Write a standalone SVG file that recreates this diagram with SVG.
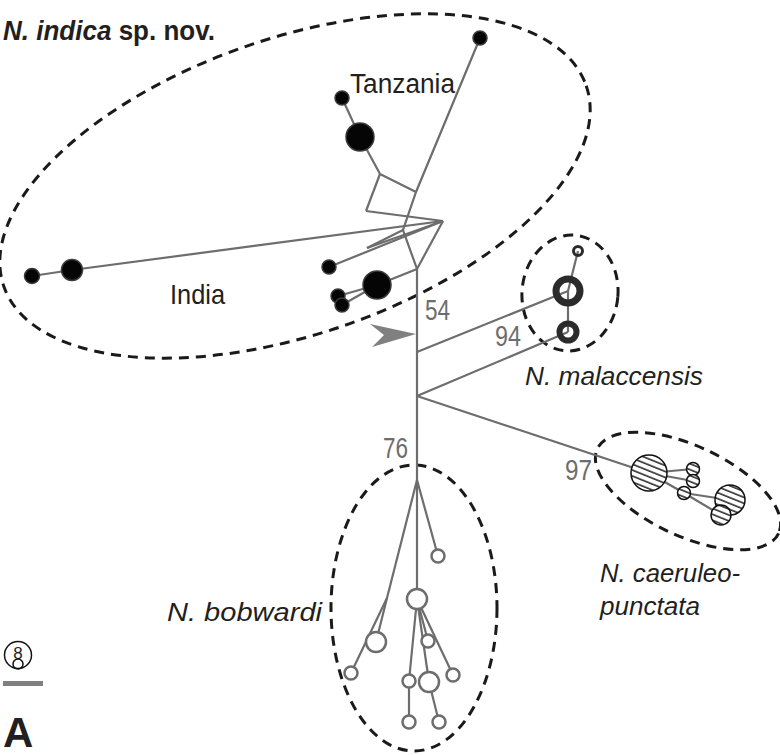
<svg xmlns="http://www.w3.org/2000/svg" width="780" height="755" viewBox="0 0 780 755">
<defs>
<pattern id="hatch" patternUnits="userSpaceOnUse" width="6" height="5.5" patternTransform="rotate(22)">
<rect width="6" height="5.5" fill="#fff"/>
<line x1="0" y1="1" x2="6" y2="1" stroke="#111" stroke-width="1.4"/>
</pattern>
</defs>
<style>
.e{fill:none;stroke:#1a1a1a;stroke-width:3;stroke-dasharray:10 7}
.c{stroke:#6d6d6d;stroke-width:2.2;fill:none}
.bk{fill:#050505;stroke:#3a3a3a;stroke-width:1.5}
.ml{fill:none;stroke:#2b2b2b}
.ht{fill:url(#hatch);stroke:#111;stroke-width:1.5}
.bw{fill:#fff;stroke:#6d6d6d;stroke-width:2.5}
.t{font-family:"Liberation Sans",Arial,sans-serif;fill:#231f20}
.n{font-family:"Liberation Sans",Arial,sans-serif;fill:#6d6d6d;font-size:29px}
.i{font-style:italic;font-size:26px}
</style>
<rect width="780" height="755" fill="#fff"/>

<g id="ellipses">
<ellipse class="e" cx="295" cy="186" rx="308" ry="148" transform="rotate(-19 295 186)"/>
<ellipse class="e" cx="570" cy="293" rx="48" ry="58" transform="rotate(5 570 293)"/>
<ellipse class="e" cx="688" cy="491" rx="100" ry="45" transform="rotate(25 688 491)"/>
<ellipse class="e" cx="414" cy="608" rx="83" ry="143"/>
</g>

<g id="connectors">
<polyline class="c" points="480,38 416,192 403,230 417,269 417,480"/>
<line class="c" x1="380" y1="174" x2="416" y2="192"/>
<line class="c" x1="380" y1="174" x2="366" y2="211"/>
<line class="c" x1="380" y1="174" x2="360" y2="137"/>
<line class="c" x1="360" y1="137" x2="342" y2="98"/>
<line class="c" x1="366" y1="211" x2="443" y2="221"/>
<polyline class="c" points="32,276 72,270 443,221"/>
<line class="c" x1="367" y1="248" x2="443" y2="221"/>
<line class="c" x1="367" y1="248" x2="403" y2="230"/>
<line class="c" x1="329" y1="267" x2="443" y2="221"/>
<line class="c" x1="443" y1="221" x2="417" y2="269"/>
<line class="c" x1="377" y1="285" x2="417" y2="269"/>
<line class="c" x1="338" y1="296" x2="377" y2="285"/>
<line class="c" x1="342" y1="305" x2="377" y2="285"/>
<line class="c" x1="417" y1="352" x2="568" y2="291"/>
<line class="c" x1="417" y1="396" x2="568" y2="332"/>
<line class="c" x1="578" y1="251" x2="568" y2="291"/>
<line class="c" x1="568" y1="291" x2="568" y2="332"/>
<line class="c" x1="417" y1="396" x2="649" y2="473"/>
<line class="c" x1="649" y1="473" x2="693" y2="469"/>
<line class="c" x1="649" y1="473" x2="693" y2="481"/>
<line class="c" x1="649" y1="473" x2="684" y2="493"/>
<line class="c" x1="684" y1="493" x2="730" y2="500"/>
<line class="c" x1="684" y1="493" x2="721" y2="515"/>
<line class="c" x1="417" y1="480" x2="438" y2="556"/>
<line class="c" x1="417" y1="480" x2="417" y2="599"/>
<line class="c" x1="417" y1="480" x2="387" y2="598"/>
<line class="c" x1="387" y1="598" x2="376" y2="642"/>
<line class="c" x1="387" y1="598" x2="351" y2="673"/>
<line class="c" x1="417" y1="599" x2="428" y2="641"/>
<line class="c" x1="417" y1="599" x2="453" y2="675"/>
<line class="c" x1="417" y1="599" x2="409" y2="681"/>
<line class="c" x1="417" y1="599" x2="429" y2="682"/>
<line class="c" x1="409" y1="681" x2="409" y2="722"/>
<line class="c" x1="429" y1="682" x2="439" y2="722"/>
<polygon points="370,324 416,334 372,347 384,335" fill="#808080"/>
</g>

<g id="indica">
<circle class="bk" cx="480" cy="38" r="7"/>
<circle class="bk" cx="342" cy="98" r="7"/>
<circle class="bk" cx="360" cy="137" r="14"/>
<circle class="bk" cx="72" cy="270" r="10.5"/>
<circle class="bk" cx="32" cy="276" r="7.5"/>
<circle class="bk" cx="329" cy="267" r="7"/>
<circle class="bk" cx="377" cy="285" r="14"/>
<circle class="bk" cx="338" cy="296" r="7"/>
<circle class="bk" cx="342" cy="305" r="7"/>
</g>

<g id="malaccensis">
<circle class="ml" cx="578" cy="251" r="4.5" stroke-width="3"/>
<circle class="ml" cx="568" cy="291" r="12" stroke-width="7"/>
<circle class="ml" cx="568" cy="332" r="8.5" stroke-width="6"/>
</g>

<g id="caeruleopunctata">
<circle class="ht" cx="649" cy="473" r="18"/>
<circle class="ht" cx="693" cy="469" r="6.5"/>
<circle class="ht" cx="693" cy="481" r="6.5"/>
<circle class="ht" cx="684" cy="493" r="6.5"/>
<circle class="ht" cx="730" cy="500" r="15"/>
<circle class="ht" cx="721" cy="515" r="10"/>
</g>

<g id="bobwardi">
<circle class="bw" cx="438" cy="556" r="6.5"/>
<circle class="bw" cx="417" cy="599" r="10"/>
<circle class="bw" cx="376" cy="642" r="10"/>
<circle class="bw" cx="351" cy="673" r="6.5"/>
<circle class="bw" cx="428" cy="641" r="6.5"/>
<circle class="bw" cx="453" cy="675" r="6.5"/>
<circle class="bw" cx="409" cy="681" r="6.5"/>
<circle class="bw" cx="429" cy="682" r="10"/>
<circle class="bw" cx="409" cy="722" r="6.5"/>
<circle class="bw" cx="439" cy="722" r="6.5"/>
</g>

<g id="labels">
<text class="t" x="3" y="40" font-size="28" font-weight="bold" textLength="212" lengthAdjust="spacingAndGlyphs"><tspan font-style="italic">N. indica</tspan> sp. nov.</text>
<text class="t" x="350" y="93" font-size="27" textLength="105" lengthAdjust="spacingAndGlyphs">Tanzania</text>
<text class="t" x="170" y="304" font-size="28" textLength="55" lengthAdjust="spacingAndGlyphs">India</text>
<text class="t i" x="525" y="385" textLength="178" lengthAdjust="spacingAndGlyphs">N. malaccensis</text>
<text class="t i" x="600" y="582" textLength="140" lengthAdjust="spacingAndGlyphs">N. caeruleo-</text>
<text class="t i" x="600" y="615" textLength="100" lengthAdjust="spacingAndGlyphs">punctata</text>
<text class="t i" x="167" y="621" font-size="27" textLength="155" lengthAdjust="spacingAndGlyphs">N. bobwardi</text>
<text class="n" x="425" y="320" textLength="25" lengthAdjust="spacingAndGlyphs">54</text>
<text class="n" x="495" y="346" textLength="26" lengthAdjust="spacingAndGlyphs">94</text>
<text class="n" x="383" y="458" textLength="25" lengthAdjust="spacingAndGlyphs">76</text>
<text class="n" x="565" y="480" textLength="27" lengthAdjust="spacingAndGlyphs">97</text>
</g>

<g id="legend">
<circle cx="18" cy="655" r="13.5" fill="none" stroke="#111" stroke-width="1.5"/>
<text class="t" x="18" y="659" font-size="17" text-anchor="middle">8</text>
<circle cx="18" cy="664" r="5" fill="none" stroke="#111" stroke-width="1.5"/>
<rect x="3" y="681" width="40" height="5" fill="#808080"/>
<text class="t" x="3" y="747" font-size="42" font-weight="bold">A</text>
</g>
</svg>
